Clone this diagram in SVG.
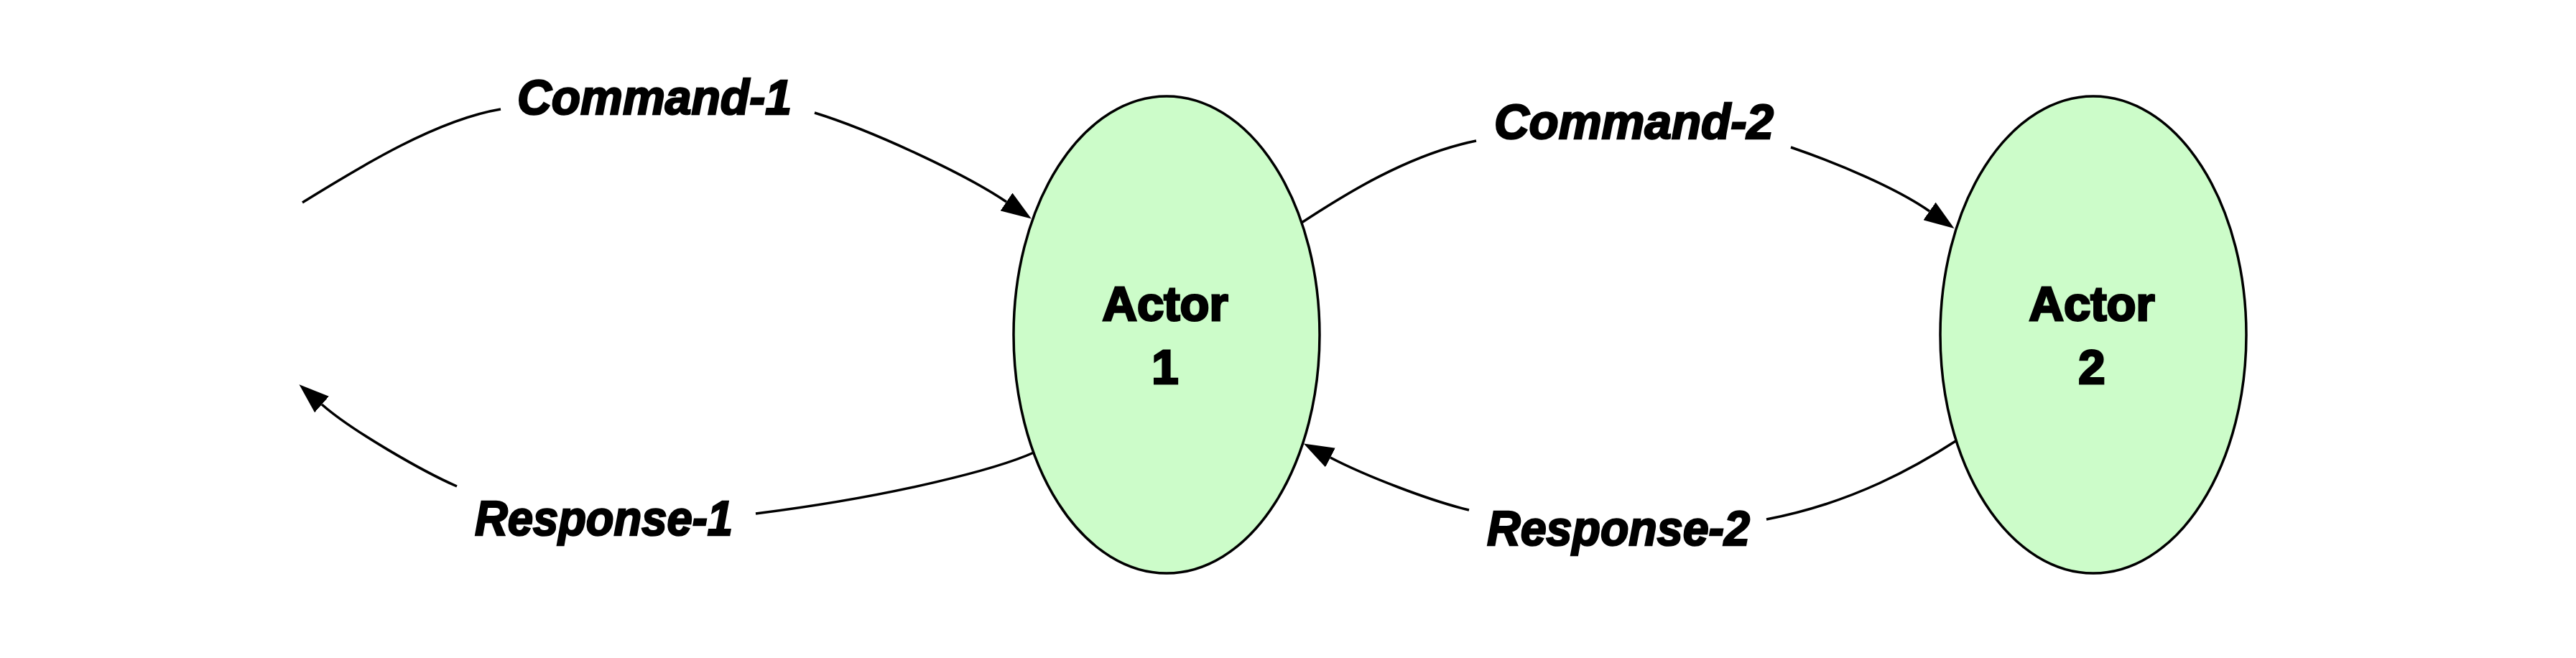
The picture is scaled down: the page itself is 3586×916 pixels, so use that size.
<svg xmlns="http://www.w3.org/2000/svg" width="3586" height="916" viewBox="0 0 3586 916">
<style>
.node{fill:#ccfcc9;stroke:#000;stroke-width:3.5}
.ntext{font-family:"Liberation Sans",Arial,sans-serif;font-weight:bold;font-size:67px;fill:#000;stroke:#000;stroke-width:3;text-anchor:middle}
.edge{fill:none;stroke:#000;stroke-width:3.5}
.elabel{font-family:"Liberation Sans",Arial,sans-serif;font-weight:bold;font-style:italic;font-size:68px;fill:#000;stroke:#000;stroke-width:2.5}
</style>
<defs>
<marker id="arrow" viewBox="0 0 42 30" markerWidth="42" markerHeight="30" refX="0" refY="15" orient="auto" markerUnits="userSpaceOnUse">
<path d="M0,0 L42,15 L0,30 Z" fill="#000"/>
</marker>
</defs>
<rect width="3586" height="916" fill="#fff"/>
<g id="connectors">
<g id="command-1">
<path class="edge" d="M421,282 C480,246 600,168 697,152"/>
<path class="edge" d="M1134,157 C1215,182 1345,243 1401,281" marker-end="url(#arrow)"/>
<text class="elabel" x="720" y="159" textLength="382" lengthAdjust="spacingAndGlyphs">Command-1</text>
</g>
<g id="command-2">
<path class="edge" d="M1812,310 C1870,272 1960,215 2055,196"/>
<path class="edge" d="M2493,205 C2560,228 2640,262 2686,294" marker-end="url(#arrow)"/>
<text class="elabel" x="2080" y="193" textLength="389" lengthAdjust="spacingAndGlyphs">Command-2</text>
</g>
<g id="response-2">
<path class="edge" d="M2724,613 C2670,648 2580,700 2459,723"/>
<path class="edge" d="M2045,710 C1990,697 1900,662 1852,637" marker-end="url(#arrow)"/>
<text class="elabel" x="2070" y="759" textLength="366" lengthAdjust="spacingAndGlyphs">Response-2</text>
</g>
<g id="response-1">
<path class="edge" d="M1439,630 C1390,652 1250,690 1052,715"/>
<path class="edge" d="M636,677 C590,657 490,600 448,563" marker-end="url(#arrow)"/>
<text class="elabel" x="661" y="745" textLength="359" lengthAdjust="spacingAndGlyphs">Response-1</text>
</g>
</g>
<g id="actor-1">
<ellipse class="node" cx="1624" cy="466" rx="213" ry="332"/>
<text class="ntext" x="1622" y="446">Actor</text>
<text class="ntext" x="1622" y="534">1</text>
</g>
<g id="actor-2">
<ellipse class="node" cx="2914" cy="466" rx="213" ry="332"/>
<text class="ntext" x="2912" y="446">Actor</text>
<text class="ntext" x="2912" y="534">2</text>
</g>
</svg>
